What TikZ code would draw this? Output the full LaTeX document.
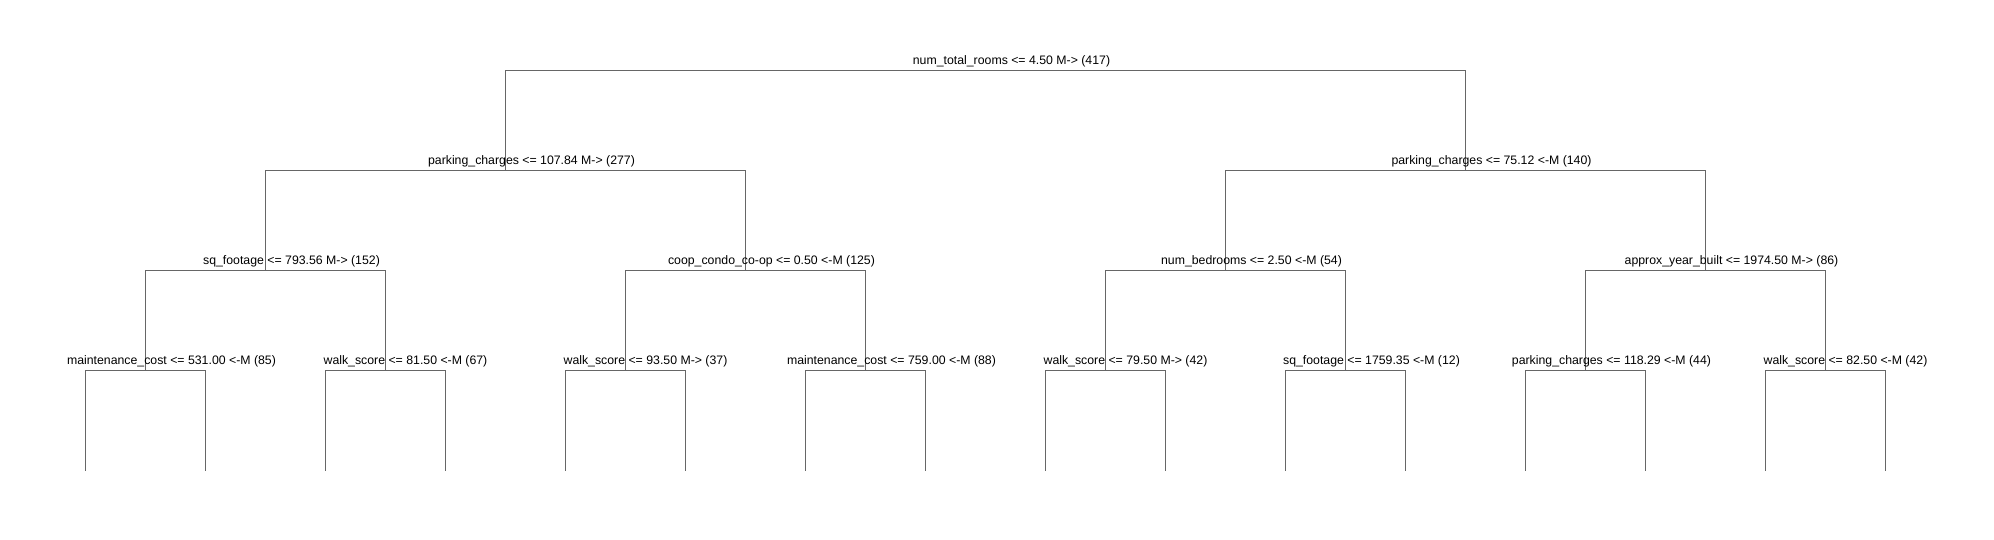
\documentclass[tikz,border=0pt]{standalone}
\usepackage{fontspec}
\setmainfont{Liberation Sans}
\usetikzlibrary{positioning}
\definecolor{cline}{HTML}{666666}
\tikzset{
  every picture/.style={font=\fontsize{6.15pt}{7pt}\selectfont, line width=0.5pt},
  branch/.style={draw=cline, line width=0.5pt},
  split/.style={anchor=base, inner sep=0pt, text=black, xshift=13pt, yshift=3pt},
  splitnarrow/.style={split, xshift=-3pt},
}

\begin{document}
\begin{tikzpicture}[x=0.5pt, y=-0.5pt]
  \useasboundingbox (0,0) rectangle (1994,540);
  % split points (pixel grid, y down)
  \coordinate (r) at (985.5,70.5);
  \coordinate (a) at (505.5,170.5);   \coordinate (b) at (1465.5,170.5);
  \coordinate (aa) at (265.5,270.5);  \coordinate (ab) at (745.5,270.5);
  \coordinate (ba) at (1225.5,270.5); \coordinate (bb) at (1705.5,270.5);
  \coordinate (aaa) at (145.5,370.5);  \coordinate (aab) at (385.5,370.5);
  \coordinate (aba) at (625.5,370.5);  \coordinate (abb) at (865.5,370.5);
  \coordinate (baa) at (1105.5,370.5); \coordinate (bab) at (1345.5,370.5);
  \coordinate (bba) at (1585.5,370.5); \coordinate (bbb) at (1825.5,370.5);
  % branches
  \draw[branch] (r) -| (a);   \draw[branch] (r) -| (b);
  \draw[branch] (a) -| (aa);  \draw[branch] (a) -| (ab);
  \draw[branch] (b) -| (ba);  \draw[branch] (b) -| (bb);
  \draw[branch] (aa) -| (aaa); \draw[branch] (aa) -| (aab);
  \draw[branch] (ab) -| (aba); \draw[branch] (ab) -| (abb);
  \draw[branch] (ba) -| (baa); \draw[branch] (ba) -| (bab);
  \draw[branch] (bb) -| (bba); \draw[branch] (bb) -| (bbb);
  % leaves
  \foreach \s in {aaa,aab,aba,abb,baa,bab,bba,bbb} {
    \path (\s) ++(-60,100) coordinate (\s-l) (\s) ++(60,100) coordinate (\s-r);
    \draw[branch] (\s) -| (\s-l);
    \draw[branch] (\s) -| (\s-r);
  }
  % labels
  \node[split] (r-lab) at (r) {num\_total\_rooms <= 4.50 M-> (417)};
  \node[split] (a-lab) at (a) {parking\_charges <= 107.84 M-> (277)};
  \node[split] (b-lab) at (b) {parking\_charges <= 75.12 <-M (140)};
  \node[split] (aa-lab) at (aa) {sq\_footage <= 793.56 M-> (152)};
  \node[split] (ab-lab) at (ab) {coop\_condo\_co-op <= 0.50 <-M (125)};
  \node[split] (ba-lab) at (ba) {num\_bedrooms <= 2.50 <-M (54)};
  \node[split] (bb-lab) at (bb) {approx\_year\_built <= 1974.50 M-> (86)};
  \node[split] (aaa-lab) at (aaa) {maintenance\_cost <= 531.00 <-M (85)};
  \node[splitnarrow] (aab-lab) at (aab) {walk\_score <= 81.50 <-M (67)};
  \node[splitnarrow] (aba-lab) at (aba) {walk\_score <= 93.50 M-> (37)};
  \node[split] (abb-lab) at (abb) {maintenance\_cost <= 759.00 <-M (88)};
  \node[splitnarrow] (baa-lab) at (baa) {walk\_score <= 79.50 M-> (42)};
  \node[split] (bab-lab) at (bab) {sq\_footage <= 1759.35 <-M (12)};
  \node[split] (bba-lab) at (bba) {parking\_charges <= 118.29 <-M (44)};
  \node[splitnarrow] (bbb-lab) at (bbb) {walk\_score <= 82.50 <-M (42)};
\end{tikzpicture}
\end{document}
